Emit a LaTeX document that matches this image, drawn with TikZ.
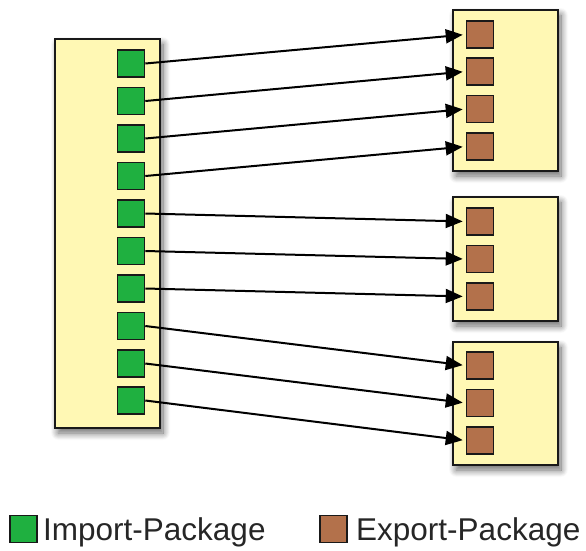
\documentclass[tikz,border=0pt]{standalone}
\usepackage{fontspec}
\setmainfont{Liberation Sans}
\usetikzlibrary{arrows.meta,shadows.blur}
\definecolor{boxyellow}{HTML}{FFF8B4}
\definecolor{impgreen}{HTML}{1FB040}
\definecolor{expbrown}{HTML}{B3714B}
\tikzset{
  bundle/.style={draw=black!90, line width=2pt, fill=boxyellow, inner sep=0pt,
    blur shadow={shadow xshift=3pt, shadow yshift=-5pt, shadow blur steps=10, shadow blur radius=7pt, shadow opacity=60}},
  imp/.style={draw=black!90, line width=1.6pt, fill=impgreen, minimum size=27pt, inner sep=0pt},
  expk/.style={draw=black!90, line width=1.6pt, fill=expbrown, minimum size=27pt, inner sep=0pt},
  wire/.style={line width=2pt, black, -{Triangle[length=17pt,width=14pt]}},
  legend/.style={anchor=base west, inner sep=0pt, font=\fontsize{31.5}{37}\selectfont, text=black!85}
}
\begin{document}
\begin{tikzpicture}[x=1pt,y=-1pt]
\useasboundingbox (0,0) rectangle (586,550);
% bundles
\node[bundle, minimum width=105pt, minimum height=389pt] (L) at (107.5,233.5) {};
\node[bundle, minimum width=105pt, minimum height=161pt] (R1) at (505.5,90.5) {};
\node[bundle, minimum width=105pt, minimum height=124pt] (R2) at (505.5,259) {};
\node[bundle, minimum width=105pt, minimum height=123pt] (R3) at (505.5,403.5) {};
% import packages
\foreach \i [count=\k] in {63.5,101,138.5,176,213.5,251,288.5,326,363.5,400.5}
  \node[imp] (g\k) at (131,\i) {};
% export packages
\node[expk] (b1) at (480,34.5) {};
\node[expk] (b2) at (480,71.5) {};
\node[expk] (b3) at (480,109) {};
\node[expk] (b4) at (480,146.5) {};
\node[expk] (b5) at (480,221.5) {};
\node[expk] (b6) at (480,259) {};
\node[expk] (b7) at (480,296.5) {};
\node[expk] (b8) at (480,365.5) {};
\node[expk] (b9) at (480,403) {};
\node[expk] (b10) at (480,440.5) {};
% wires
\foreach \k in {1,...,10}
  \draw[wire, shorten >=3pt] (g\k.east) -- (b\k.west);
% legend
\node[imp] (lg) at (23.5,529) {};
\node[legend] (lgt) at (43,540) {Import-Package};
\node[expk] (lb) at (333.5,529) {};
\node[legend] (lbt) at (356,540) {Export-Package};
\end{tikzpicture}
\end{document}
